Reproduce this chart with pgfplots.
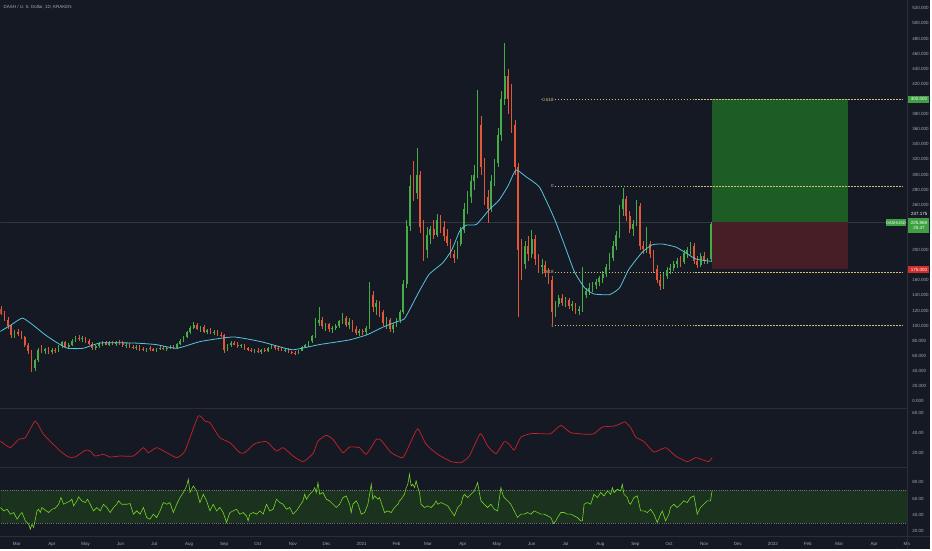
\documentclass[border=0pt]{standalone}
\usepackage{fontspec}
\setmainfont{Liberation Sans}
\usepackage{pgfplots}
\pgfplotsset{compat=1.18}
\usepackage{pgfplotstable}

\definecolor{bg}{RGB}{21,25,36}
\definecolor{sep}{RGB}{42,46,57}
\definecolor{lbl}{RGB}{165,168,178}
\definecolor{upc}{RGB}{70,172,72}
\definecolor{dnc}{RGB}{226,86,58}
\definecolor{mac}{RGB}{88,196,222}
\definecolor{fib}{RGB}{206,196,118}
\definecolor{boxg}{RGB}{30,92,38}
\definecolor{boxr}{RGB}{72,30,38}
\definecolor{tagg}{RGB}{62,160,66}
\definecolor{tagr}{RGB}{208,45,45}
\definecolor{volc}{RGB}{205,35,40}
\definecolor{rsic}{RGB}{118,214,36}
\definecolor{rsiband}{RGB}{27,50,31}
\definecolor{rsiline}{RGB}{110,114,124}
\definecolor{entry}{RGB}{50,54,66}

\newcommand{\lab}{\fontsize{4.5}{5.4}\selectfont}

% daily candles sampled every 3 days, d = days from 2021-01-01
\pgfplotstableread{
d o h l c
-320 122 126 114 116
-317 116 120 106 108
-314 108 112 96 99
-311 99 102 84 87
-308 87 94 84 91
-305 91 95 86 89
-302 89 93 82 85
-299 85 86 72 74
-296 74 77 62 66
-293 66 68 38 44
-290 44 56 40 54
-287 54 70 52 68
-284 68 74 64 66
-281 66 71 62 69
-278 69 72 63 65
-275 65 70 62 68
-272 68 71 64 67
-269 67 75 65 73
-266 73 80 70 78
-263 78 80 70 72
-260 72 77 69 75
-257 75 82 73 80
-254 80 86 78 84
-251 84 88 80 82
-248 82 86 78 83
-245 83 85 77 79
-242 79 82 74 76
-239 76 78 68 70
-236 70 75 68 73
-233 73 78 71 76
-230 76 80 73 78
-227 78 80 74 75
-224 75 79 73 77
-221 77 80 74 76
-218 76 79 73 78
-215 78 81 75 77
-212 77 79 72 74
-209 74 77 71 75
-206 75 77 70 72
-203 72 75 69 71
-200 71 74 68 72
-197 72 74 67 69
-194 69 72 66 68
-191 68 71 65 70
-188 70 73 67 69
-185 69 71 66 67
-182 67 71 65 70
-179 70 73 68 71
-176 71 73 68 69
-173 69 72 67 71
-170 71 74 69 72
-167 72 75 69 70
-164 70 77 69 76
-161 76 82 74 80
-158 80 86 78 85
-155 85 93 83 91
-152 91 100 89 97
-149 97 105 95 101
-146 101 103 94 96
-143 96 100 92 98
-140 98 101 90 92
-137 92 96 89 94
-134 94 97 89 91
-131 91 94 88 92
-128 92 94 86 88
-125 88 91 85 87
-122 87 89 64 68
-119 68 76 66 74
-116 74 79 72 77
-113 77 80 74 75
-110 75 78 71 73
-107 73 76 70 74
-104 74 76 68 70
-101 70 72 66 68
-98 68 71 65 66
-95 66 69 64 67
-92 67 70 64 65
-89 65 69 63 68
-86 68 71 65 66
-83 66 72 65 71
-80 71 75 69 73
-77 73 75 68 70
-74 70 73 67 69
-71 69 72 66 67
-68 67 70 65 68
-65 68 70 64 65
-62 65 67 62 64
-59 64 66 61 63
-56 63 68 62 67
-53 67 73 66 72
-50 72 76 70 74
-47 74 80 72 79
-44 79 88 77 86
-41 86 110 84 104
-38 104 124 100 108
-35 108 112 96 99
-32 99 104 93 102
-29 102 104 92 95
-26 95 99 90 97
-23 97 102 94 99
-20 99 108 97 106
-17 106 117 102 110
-14 110 113 98 101
-11 101 110 96 105
-8 105 107 92 95
-5 95 99 87 90
-2 90 95 86 93
1 93 96 88 91
4 91 100 88 97
7 97 158 95 140
10 140 146 118 124
13 124 134 114 130
16 130 133 112 118
19 118 121 100 104
22 104 112 95 108
25 108 110 92 96
28 96 104 90 101
31 101 110 98 108
34 108 121 104 118
37 118 160 115 155
40 155 240 150 232
43 232 300 225 285
46 285 318 265 275
49 275 335 268 300
52 300 305 222 230
55 230 240 185 200
58 200 230 190 220
61 220 232 208 228
64 228 240 215 220
67 220 248 217 240
70 240 246 222 230
73 230 238 212 218
76 218 228 205 210
79 210 214 190 195
82 195 200 183 190
85 190 212 188 208
88 208 230 205 226
91 226 262 222 255
94 255 278 248 270
97 270 300 262 292
100 292 312 280 300
103 300 412 296 365
106 365 378 300 310
109 310 322 260 270
112 270 280 236 255
115 255 300 250 292
118 292 320 285 315
121 315 362 310 352
124 352 410 345 400
127 400 474 392 430
130 430 440 380 400
133 400 420 355 365
136 365 372 300 310
139 310 315 112 200
142 200 215 160 182
145 182 212 175 205
148 205 218 185 195
151 195 226 190 215
154 215 220 180 188
157 188 195 170 178
160 178 188 168 180
163 180 185 165 170
166 170 176 155 160
169 160 166 101 118
172 118 132 112 128
175 128 140 124 136
178 136 142 126 130
181 130 138 125 134
184 134 136 122 126
187 126 132 120 128
190 128 130 116 120
193 120 126 114 122
196 122 177 118 140
199 140 150 136 146
202 146 156 140 150
205 150 158 144 154
208 154 162 148 158
211 158 166 152 163
214 163 172 157 168
217 168 182 165 178
220 178 196 174 190
223 190 212 185 205
226 205 225 200 220
229 220 260 216 255
232 255 282 245 268
235 268 272 238 245
238 245 252 222 228
241 228 240 218 235
244 235 266 232 258
247 258 262 200 205
250 205 212 195 202
253 202 230 196 208
256 208 212 190 195
259 195 200 170 175
262 175 180 156 160
265 160 168 147 152
268 152 170 148 166
271 166 178 162 174
274 174 182 168 176
277 176 185 172 182
280 182 190 176 186
283 186 192 178 184
286 184 200 182 196
289 196 204 190 200
292 200 211 194 206
295 206 210 182 186
298 186 192 176 180
301 180 196 178 192
304 192 198 182 186
307 186 190 182 188
310 188 237 186 234
}\price
% direction of each candle: 1 up, 0 down
\pgfplotstablecreatecol[expr={\thisrow{c}>=\thisrow{o}}]{u}{\price}

\pgfplotsset{
  panel/.style={
    scale only axis, width=909pt,
    xmin=-320.6, xmax=484.5,
    axis line style={draw=none},
    major tick length=0pt,
    xtick=\empty,
    ytick pos=right,
    yticklabel pos=right,
    tick label style={font=\lab, text=lbl},
    yticklabel style={anchor=west, xshift=1.5pt},
    /pgf/number format/assume math mode=true,
    /pgf/number format/fixed,
    /pgf/number format/fixed zerofill,
    /pgf/number format/1000 sep={},
  },
  colormap={updown}{color=(dnc) color=(upc)},
}
\tikzset{tag/.style={font=\lab, text=white, inner sep=0.6pt, minimum width=21pt, minimum height=7pt}}

\begin{document}
\begin{tikzpicture}
\fill[bg] (0pt,0pt) rectangle (932pt,-550pt);

% main price panel
\begin{axis}[panel, at={(0pt,0pt)}, anchor=north west, height=409pt,
  ymin=-9.6, ymax=530.6,
  ytick={0,20,40,60,80,100,120,140,160,200,260,280,300,320,340,360,380,420,440,460,480,500,520},
  /pgf/number format/precision=3,
  colormap name=updown, point meta min=0, point meta max=1]
  \addplot[entry, line width=0.6pt] coordinates {(-330,237.2) (490,237.2)};
  \addplot[draw=none, fill=boxg] coordinates {(310.9,237.2) (431.4,237.2) (431.4,399.3) (310.9,399.3)} -- cycle;
  \addplot[draw=none, fill=boxr] coordinates {(310.9,175) (431.4,175) (431.4,237.2) (310.9,237.2)} -- cycle;
  % fibonacci levels
  \addplot[fib, line width=0.5pt, dash pattern=on 1.5pt off 1.5pt] coordinates {(171.5,399.3) (481,399.3)};
  \addplot[fib, line width=0.5pt, dash pattern=on 1.5pt off 1.5pt] coordinates {(171.5,285) (481,285)};
  \addplot[fib, line width=0.5pt, dash pattern=on 1.5pt off 1.5pt] coordinates {(171.5,170.7) (481,170.7)};
  \addplot[fib, line width=0.5pt, dash pattern=on 1.5pt off 1.5pt] coordinates {(171.5,100) (481,100)};
  \node[anchor=east, font=\lab, text=fib, inner sep=1pt] at (axis cs:171.5,399.3) {-0.618};
  \node[anchor=east, font=\lab, text=fib, inner sep=1pt] at (axis cs:171.5,285) {0};
  \node[anchor=east, font=\lab, text=fib, inner sep=1pt] at (axis cs:171.5,170.7) {0.618};
  \node[anchor=east, font=\lab, text=fib, inner sep=1pt] at (axis cs:171.5,100) {1};
  % candles: wicks (low to high) then bodies (open to close), coloured by direction
  \addplot[line width=0.5pt, point meta=explicit,
    quiver={u=0, v=\thisrow{h}-\thisrow{l}, colored}]
    table[x=d, y=l, meta=u] {\price};
  \addplot[line width=1.7pt, point meta=explicit,
    quiver={u=0, v=\thisrow{c}-\thisrow{o}, colored}]
    table[x=d, y=o, meta=u] {\price};
  % moving average
  \addplot[mac, line width=0.8pt, smooth, tension=0.3] coordinates {
    (-321,92) (-311,101) (-301,110) (-291,100) (-281,88) (-271,78) (-261,70)
    (-247,70) (-232,77) (-203,77) (-183,75) (-164,70) (-143,79) (-114,85)
    (-90,79) (-75,73) (-61,68) (-37,75) (-11,81) (5,88) (19,98) (31,105)
    (38,109) (44,125) (51,145) (60,168) (72,183) (80,200) (87,225) (93,233)
    (102,234) (113,253) (122,266) (130,285) (137,306) (146,297) (158,283)
    (171,242) (180,207) (189,171) (198,150) (206,142) (220,141) (229,150)
    (237,174) (249,197) (258,207) (267,208) (279,204) (288,196) (297,188) (311,185)};
\end{axis}

% middle indicator panel
\begin{axis}[panel, at={(0pt,-409pt)}, anchor=north west, height=59pt,
  ymin=6, ymax=65, ytick={20,40,60}, /pgf/number format/precision=2]
  \addplot[volc, line width=0.7pt, smooth, tension=0.3] coordinates {
    (-320.6,32.3) (-311.8,25.7) (-304.4,34.0) (-298.5,35.7) (-289.6,52.3) (-282.3,39.0)
    (-267.5,22.3) (-260.1,16.3) (-254.2,16.3) (-245.3,23.0) (-240.9,22.3) (-236.5,17.3)
    (-229.1,19.0) (-223.2,16.3) (-214.3,17.3) (-202.6,17.3) (-193.7,25.7) (-189.3,20.7)
    (-181.8,25.7) (-173.0,20.7) (-164.1,15.7) (-156.8,22.3) (-145.0,57.3) (-139.1,52.3)
    (-134.6,50.7) (-125.8,35.7) (-116.9,30.7) (-108.1,20.7) (-103.6,20.7) (-94.8,29.7)
    (-84.4,31.7) (-75.6,22.3) (-69.7,25.7) (-60.8,17.3) (-52.0,11.7) (-43.1,19.7)
    (-38.7,32.3) (-31.3,38.0) (-25.4,34.0) (-16.6,20.7) (-10.6,26.3) (-1.8,25.7)
    (4.2,19.0) (13.0,34.0) (17.4,33.0) (26.3,20.7) (36.6,15.7) (44.0,32.3) (49.9,44.7)
    (57.3,29.0) (67.6,19.0) (79.5,11.7) (88.3,10.7) (95.7,17.3) (105.4,39.7) (111.9,27.3)
    (119.3,19.7) (126.7,31.7) (131.1,29.0) (135.5,23.3) (141.5,36.3) (150.3,39.7)
    (159.2,39.7) (168.0,39.7) (176.9,48.0) (185.7,40.7) (200.4,39.0) (206.4,39.7)
    (213.7,46.3) (224.1,47.3) (230.0,49.7) (233.6,51.7) (238.9,45.7) (243.3,36.3)
    (250.7,31.7) (259.5,21.3) (269.9,25.7) (278.7,17.3) (289.0,11.7) (296.5,15.7)
    (302.3,13.7) (308.2,11.7) (311.2,15.7)};
\end{axis}

% RSI panel
\begin{axis}[panel, at={(0pt,-468pt)}, anchor=north west, height=69pt,
  ymin=14.2, ymax=97.9, ytick={20,40,60,80}, /pgf/number format/precision=2,
  xtick={-306,-275,-245,-214,-184,-153,-122,-92,-61,-31,0,31,59,90,120,151,181,212,243,273,304,334,365,396,424,455,484},
  xticklabels={Mar,Apr,May,Jun,Jul,Aug,Sep,Oct,Nov,Dec,2021,Feb,Mar,Apr,May,Jun,Jul,Aug,Sep,Oct,Nov,Dec,2022,Feb,Mar,Apr,Ma},
  xticklabel style={yshift=-3pt}]
  \addplot[draw=none, fill=rsiband] coordinates {(-330,30) (490,30) (490,70) (-330,70)} -- cycle;
  \addplot[rsiline, line width=0.4pt, dash pattern=on 1pt off 1.2pt] coordinates {(-330,70) (490,70)};
  \addplot[rsiline, line width=0.4pt, dash pattern=on 1pt off 1.2pt] coordinates {(-330,30) (490,30)};
  \addplot[rsic, line width=0.6pt] coordinates {
    (-320.6,49.0) (-317.6,44.9) (-314.7,46.9) (-311.7,40.9) (-308.8,42.9) (-305.8,34.8)
    (-302.9,40.9) (-301.4,42.9) (-298.5,32.8) (-295.5,28.8) (-294.0,22.7) (-292.6,28.8)
    (-291.1,24.7) (-289.6,34.8) (-288.1,44.9) (-286.7,46.9) (-285.2,42.9) (-283.7,49.0)
    (-280.7,45.7) (-277.8,42.9) (-274.8,46.9) (-271.9,48.2) (-268.9,53.0) (-266.9,61.1)
    (-264.5,53.0) (-261.6,55.0) (-258.6,57.1) (-257.1,59.1) (-255.7,51.0) (-252.7,57.1)
    (-251.2,61.9) (-248.3,57.1) (-245.3,55.0) (-243.3,59.1) (-240.9,53.0) (-238.0,44.9)
    (-235.0,49.0) (-232.0,44.9) (-229.1,53.0) (-226.1,49.0) (-223.2,42.9) (-220.2,49.0)
    (-217.3,53.0) (-215.8,57.1) (-212.9,53.0) (-208.4,53.0) (-205.5,53.8) (-202.5,40.9)
    (-199.6,44.9) (-196.6,40.9) (-193.7,49.0) (-190.7,36.8) (-187.8,34.8) (-184.8,40.9)
    (-181.9,36.8) (-178.9,44.9) (-176.0,55.0) (-173.0,53.0) (-170.1,55.0) (-167.1,42.9)
    (-164.1,53.0) (-161.2,61.1) (-158.2,67.2) (-155.3,75.2) (-153.8,83.3) (-152.3,67.2)
    (-149.4,75.2) (-146.4,69.2) (-143.5,55.0) (-140.5,65.1) (-137.6,57.1) (-134.6,44.9)
    (-131.7,53.0) (-128.7,44.9) (-125.8,49.0) (-122.8,42.9) (-119.9,30.8) (-116.9,42.9)
    (-114.0,44.9) (-111.0,46.9) (-108.1,40.9) (-105.1,42.9) (-102.2,38.9) (-100.7,32.8)
    (-99.2,40.9) (-96.2,42.9) (-93.3,40.9) (-90.3,44.9) (-87.4,40.9) (-84.4,53.0)
    (-81.5,44.9) (-78.5,46.9) (-75.6,59.1) (-72.6,55.0) (-69.7,53.0) (-66.7,46.9)
    (-63.8,49.0) (-60.8,40.9) (-57.9,44.9) (-54.9,51.0) (-52.0,57.1) (-50.5,65.1)
    (-49.0,59.1) (-46.1,65.1) (-43.1,69.2) (-41.6,73.2) (-40.2,67.2) (-38.7,79.3)
    (-37.2,65.1) (-34.3,67.2) (-31.3,59.1) (-28.4,57.1) (-25.4,53.0) (-22.5,49.0)
    (-19.5,53.0) (-16.5,61.1) (-13.6,63.1) (-10.6,53.0) (-9.2,42.9) (-7.7,53.0)
    (-4.7,57.1) (-3.2,53.0) (-0.3,40.9) (2.7,42.9) (5.6,53.0) (7.1,65.1) (8.6,77.2)
    (10.0,59.1) (11.5,63.1) (14.5,59.1) (16.0,61.1) (17.4,55.0) (20.4,42.9) (23.3,44.9)
    (26.3,42.9) (29.2,49.0) (32.2,53.0) (33.7,57.1) (35.1,59.1) (38.1,65.1) (39.6,73.2)
    (41.0,77.2) (42.5,89.3) (44.0,75.2) (45.5,77.2) (47.0,73.2) (48.4,81.3) (49.9,73.2)
    (51.4,67.2) (52.8,53.0) (55.8,49.0) (58.7,51.0) (61.7,49.0) (64.6,53.0) (66.1,57.1)
    (67.6,53.0) (70.6,55.0) (73.5,53.0) (76.5,51.0) (79.4,44.9) (82.4,38.9) (85.3,49.0)
    (88.3,53.0) (89.7,61.1) (91.2,65.1) (94.2,61.1) (97.1,65.1) (100.1,69.2) (103.0,79.3)
    (104.5,67.2) (106.0,57.1) (108.9,53.0) (111.9,49.0) (114.8,53.0) (117.8,46.9)
    (120.7,44.9) (123.7,73.2) (125.2,65.1) (126.6,61.1) (129.6,57.1) (132.5,53.0)
    (135.5,44.9) (138.4,36.8) (141.4,40.9) (144.4,40.9) (147.3,42.9) (150.3,40.9)
    (153.2,44.9) (156.2,42.9) (159.1,40.9) (162.1,40.9) (165.0,38.9) (168.0,36.8)
    (170.3,29.6) (172.4,32.8) (173.9,36.8) (176.8,42.9) (179.8,42.9) (182.7,40.9)
    (185.7,40.9) (188.6,38.9) (191.6,36.8) (194.5,32.8) (196.0,32.8) (197.5,53.0)
    (200.4,55.0) (203.4,53.0) (206.3,65.1) (209.3,61.1) (212.2,67.2) (215.2,63.1)
    (218.2,69.2) (221.1,65.1) (222.6,73.2) (224.1,67.2) (227.0,71.2) (230.0,69.2)
    (231.4,77.2) (232.9,65.1) (235.9,61.1) (237.3,55.0) (238.8,53.0) (241.8,61.1)
    (244.7,63.1) (247.7,44.9) (250.6,44.9) (253.6,42.9) (256.5,46.9) (259.5,40.9)
    (262.4,30.8) (265.4,40.9) (266.9,44.9) (269.8,32.8) (272.8,40.9) (274.2,49.0)
    (277.2,53.0) (280.1,49.0) (283.1,53.0) (286.0,57.1) (289.0,55.0) (292.0,61.1)
    (294.9,63.1) (296.4,53.0) (297.9,40.9) (300.8,49.0) (303.8,53.0) (306.7,57.1)
    (309.7,57.1) (311.1,69.2)};
\end{axis}

% panel separators
\draw[sep, line width=0.8pt] (0pt,-409pt) -- (909pt,-409pt);
\draw[sep, line width=0.8pt] (0pt,-468pt) -- (909pt,-468pt);
\draw[sep, line width=0.6pt] (0pt,-537pt) -- (932pt,-537pt);
\draw[sep, line width=0.6pt] (909pt,0pt) -- (909pt,-550pt);

% title and price scale tags
\node[anchor=west, font=\lab, text=lbl, inner sep=0pt] at (3pt,-7pt) {DASH / U. S. Dollar, 1D, KRAKEN};
\node[tag, fill=tagg] at (920.5pt,-99pt) {400.000};
\node[tag, fill=tagr] at (920.5pt,-270pt) {175.000};
\node[font=\lab, text=white, anchor=west, inner sep=0pt] at (912.5pt,-214pt) {237.175};
\node[tag, fill=tagg, minimum height=15pt, align=center] at (920.5pt,-225.5pt) {225.868\\25:47};
\node[tag, fill=tagg, font=\fontsize{4}{5}\selectfont, minimum width=20pt] at (897.5pt,-223pt) {DASHUSD};
\end{tikzpicture}
\end{document}
